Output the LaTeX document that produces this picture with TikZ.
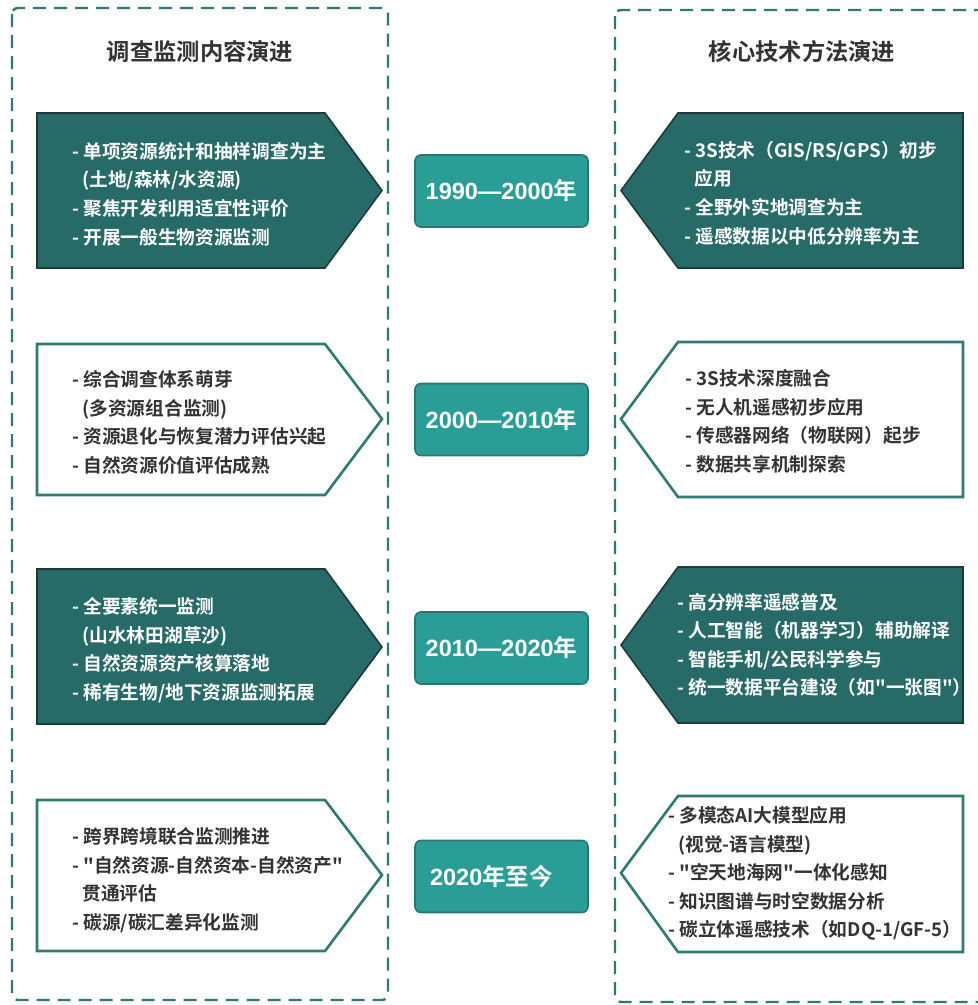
\documentclass[tikz,border=0pt]{standalone}
\usepackage{fontspec}
\setmainfont{Noto Sans CJK SC}[BoldFont={Noto Sans CJK SC Bold}, Ligatures=TeXOff]
\newfontfamily\numfont{Liberation Sans}
\definecolor{dashcol}{HTML}{2D7A74}
\definecolor{darkfill}{HTML}{276B68}
\definecolor{darkedge}{HTML}{1E3B3A}
\definecolor{lightedge}{HTML}{2E7B74}
\definecolor{midfill}{HTML}{2A9D96}
\definecolor{midedge}{HTML}{2B7570}
\definecolor{txt}{HTML}{333333}
\tikzset{
  panel/.style={draw=dashcol, line width=2.4pt, dash pattern=on 13pt off 8pt, rounded corners=6pt},
  darkbox/.style={fill=darkfill, draw=darkedge, line width=1.6pt},
  lightbox/.style={fill=white, draw=lightedge, line width=2.6pt},
  bodytext/.style={font=\bfseries\fontsize{18.7}{28.6}\selectfont, align=left, anchor=west, inner sep=0pt},
  ontext/.style={bodytext, text=white},
  offtext/.style={bodytext, text=txt},
  title/.style={font=\bfseries\fontsize{23.3}{26}\selectfont, text=txt, inner sep=0pt},
  period/.style={fill=midfill, draw=midedge, line width=1.6pt, rounded corners=6pt,
    minimum width=173pt, minimum height=72pt, inner sep=0pt, text=white,
    font=\bfseries\fontsize{23.5}{26}\selectfont}
}
\newcommand{\cont}{\hspace*{0.55em}}
\begin{document}
\begin{tikzpicture}[x=1pt,y=-1pt]
\useasboundingbox (0,0) rectangle (978,1005);
\clip (0,0) rectangle (978,1005);
\fill[white] (0,0) rectangle (978,1005);

% panels
\draw[panel] (12,8) rectangle (388,1000);
\draw[panel] (615,10) rectangle (992,1002);
\node[title] (tl) at (200,52) {调查监测内容演进};
\node[title] (tr) at (802,52) {核心技术方法演进};

% left boxes
\draw[darkbox] (37,113) -- (325,113) -- (382,190.5) -- (325,268) -- (37,268) -- cycle;
\node[ontext] (l1) at (72,194) {- 单项资源统计和抽样调查为主\\\cont(土地/森林/水资源)\\- 聚焦开发利用适宜性评价\\- 开展一般生物资源监测};

\draw[lightbox] (37,344) -- (325,344) -- (382,419) -- (325,495) -- (37,495) -- cycle;
\node[offtext] (l2) at (72,422.5) {- 综合调查体系萌芽\\\cont(多资源组合监测)\\- 资源退化与恢复潜力评估兴起\\- 自然资源价值评估成熟};

\draw[darkbox] (37,569) -- (325,569) -- (382,647) -- (325,724) -- (37,724) -- cycle;
\node[ontext] (l3) at (72,650) {- 全要素统一监测\\\cont(山水林田湖草沙)\\- 自然资源资产核算落地\\- 稀有生物/地下资源监测拓展};

\draw[lightbox] (37,800) -- (325,800) -- (382,875) -- (325,951) -- (37,951) -- cycle;
\node[offtext] (l4) at (72,880) {- 跨界跨境联合监测推进\\- "自然资源-自然资本-自然资产"\\\cont 贯通评估\\- 碳源/碳汇差异化监测};

% right boxes
\draw[darkbox] (963,113) -- (678,113) -- (621,190.5) -- (678,268) -- (963,268) -- cycle;
\node[ontext] (r1) at (684,193) {- 3S技术（GIS/RS/GPS）初步\\\cont 应用\\- 全野外实地调查为主\\- 遥感数据以中低分辨率为主};

\draw[lightbox] (963,342) -- (678,342) -- (621,419) -- (678,497) -- (963,497) -- cycle;
\node[offtext] (r2) at (685,421.5) {- 3S技术深度融合\\- 无人机遥感初步应用\\- 传感器网络（物联网）起步\\- 数据共享机制探索};

\draw[darkbox] (963,567) -- (678,567) -- (621,645) -- (678,723) -- (963,723) -- cycle;
\node[ontext] (r3) at (677,645) {- 高分辨率遥感普及\\- 人工智能（机器学习）辅助解译\\- 智能手机/公民科学参与\\- 统一数据平台建设（如"一张图"）};

\draw[lightbox] (963,796) -- (678,796) -- (621,873) -- (678,952) -- (963,952) -- cycle;
\node[offtext] (r4) at (668,873.5) {- 多模态AI大模型应用\\\cont(视觉-语言模型)\\- "空天地海网"一体化感知\\- 知识图谱与时空数据分析\\- 碳立体遥感技术（如DQ-1/GF-5）};

% periods
\node[period] (p1) at (501.5,191) {{\numfont 1990—2000}年};
\node[period] (p2) at (501.5,419.5) {{\numfont 2000—2010}年};
\node[period] (p3) at (501.5,648) {{\numfont 2010—2020}年};
\node[period] (p4) at (501.5,876.5) {\hspace*{-20pt}{\numfont 2020}年至今};
\end{tikzpicture}
\end{document}
